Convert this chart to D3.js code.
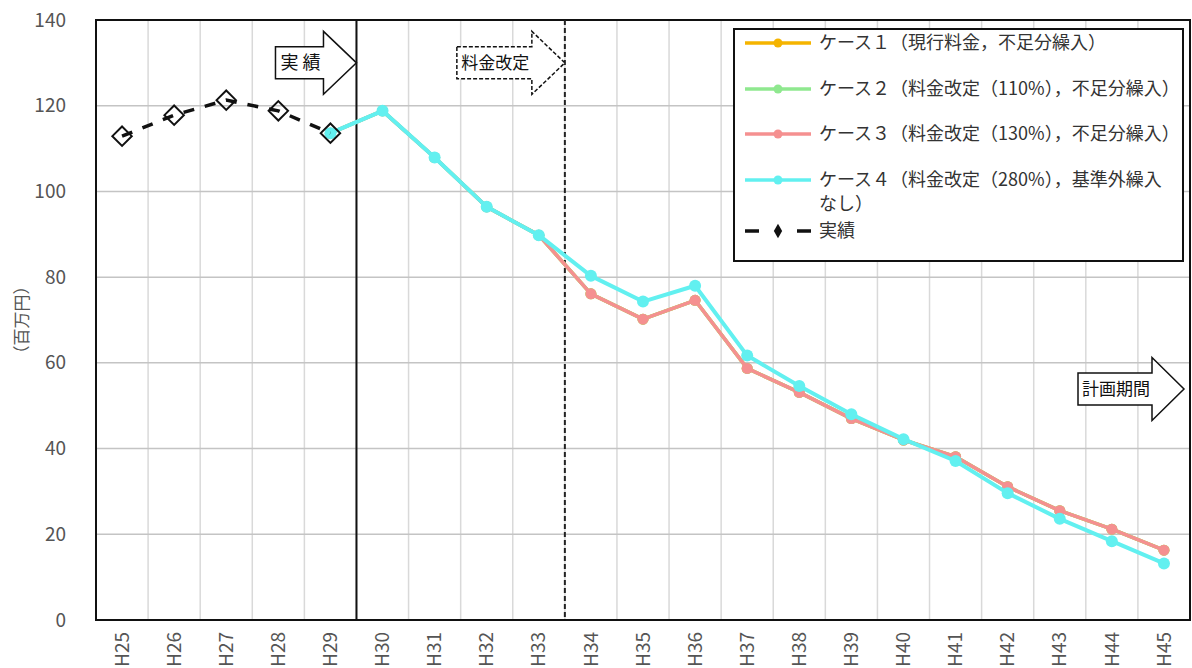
<!DOCTYPE html>
<html><head><meta charset="utf-8">
<script src="https://cdn.jsdelivr.net/npm/d3@7"></script>
<style>
html,body{margin:0;padding:0;background:#fff;}
svg{display:block;font-family:"Noto Sans CJK JP","Noto Sans",sans-serif;}
</style></head>
<body>
<script>
const categories = ["H25","H26","H27","H28","H29","H30","H31","H32","H33","H34","H35","H36","H37","H38","H39","H40","H41","H42","H43","H44","H45"];
const yTicks = [0,20,40,60,80,100,120,140];
const actual = [112.9,117.8,121.3,118.8,113.6,null,null,null,null,null,null,null,null,null,null,null,null,null,null,null,null];
const case1 = [null,null,null,null,113.6,118.8,107.9,96.4,89.8,76.1,70.2,74.6,58.7,53.1,47.0,42.0,38.1,31.1,25.5,21.2,16.3];
const case2 = [null,null,null,null,113.6,118.8,107.9,96.4,89.8,76.1,70.2,74.6,58.7,53.1,47.0,42.0,38.1,31.1,25.5,21.2,16.3];
const case3 = [null,null,null,null,113.6,118.8,107.9,96.4,89.8,76.1,70.2,74.6,58.7,53.1,47.0,42.0,38.1,31.1,25.5,21.2,16.3];
const case4 = [null,null,null,null,113.6,118.8,107.9,96.4,89.8,80.3,74.3,78.0,61.7,54.6,48.0,42.2,37.1,29.6,23.6,18.4,13.2];
const seriesNames = ["ケース１（現行料金，不足分繰入）","ケース２（料金改定（110%），不足分繰入）","ケース３（料金改定（130%），不足分繰入）","ケース４（料金改定（280%），基準外繰入","実績"];
const seriesColors = ["#f5b400","#8fe88f","#f59090","#62f0f0"];
const yLabel = "（百万円）";

const W = 1192, H = 668;
const L = 96, R = 1190, T = 20, B = 620;

const svg = d3.select("body").append("svg").attr("width", W).attr("height", H);

const x = d3.scaleBand().domain(categories).range([L, R]).padding(0);
const y = d3.scaleLinear().domain([0, 140]).range([B, T]);
const cx = c => x(c) + x.bandwidth() / 2;

// grid
svg.append("g").selectAll("line").data(categories.slice(1)).join("line")
  .attr("x1", d => x(d)).attr("x2", d => x(d)).attr("y1", T).attr("y2", B)
  .attr("stroke", "#d9d9d9").attr("stroke-width", 1.5);
svg.append("g").selectAll("line").data(yTicks.filter(v => v > 0 && v < 140)).join("line")
  .attr("x1", L).attr("x2", R).attr("y1", d => y(d)).attr("y2", d => y(d))
  .attr("stroke", "#c4c4c4").attr("stroke-width", 1.5);

// y axis labels
const yAxis = d3.axisLeft(y).tickValues(yTicks).tickSize(0).tickPadding(30);
const gy = svg.append("g").attr("transform", `translate(${L},0)`).call(yAxis);
gy.select(".domain").remove();
gy.selectAll("text").attr("font-size", 19).attr("fill", "#555").attr("font-family", "\"Noto Sans CJK JP\", sans-serif");

// x axis labels
const xAxis = d3.axisBottom(x).tickSize(0).tickPadding(0);
const gx = svg.append("g").attr("transform", `translate(0,${B})`).call(xAxis);
gx.select(".domain").remove();
gx.selectAll("text").attr("font-size", 19).attr("fill", "#555")
  .attr("font-family", "\"Noto Sans CJK JP\", sans-serif")
  .attr("text-anchor", "end").attr("dy", "0.35em")
  .attr("transform", "translate(0,12) rotate(-90)").attr("x", 0).attr("y", 0);

// y title
svg.append("text").attr("transform", `translate(22,${y(70)}) rotate(-90)`)
  .attr("text-anchor", "middle").attr("dy", "0.35em")
  .attr("font-size", 17).attr("fill", "#555").text(yLabel);

// frame
svg.append("rect").attr("x", L).attr("y", T).attr("width", R - L).attr("height", B - T)
  .attr("fill", "none").attr("stroke", "#111").attr("stroke-width", 2);

// separators
svg.append("line").attr("x1", x("H30")).attr("x2", x("H30")).attr("y1", T).attr("y2", B)
  .attr("stroke", "#111").attr("stroke-width", 2);
svg.append("line").attr("x1", x("H34")).attr("x2", x("H34")).attr("y1", T).attr("y2", B)
  .attr("stroke", "#222").attr("stroke-width", 2).attr("stroke-dasharray", "5,3");

// series
const line = d3.line().defined(d => d.v != null).x(d => cx(d.c)).y(d => y(d.v));
const cases = [case1, case2, case3, case4];
cases.forEach((arr, i) => {
  const pts = categories.map((c, j) => ({c, v: arr[j]}));
  svg.append("path").datum(pts).attr("d", line).attr("fill", "none")
    .attr("stroke", seriesColors[i]).attr("stroke-width", i === 3 ? 4 : 3.5).attr("stroke-linejoin", "round");
  svg.append("g").selectAll("circle").data(pts.filter(d => d.v != null)).join("circle")
    .attr("cx", d => cx(d.c)).attr("cy", d => y(d.v)).attr("r", i === 3 ? 6 : 5.5).attr("fill", seriesColors[i]);
});
{
  const pts = categories.map((c, j) => ({c, v: actual[j]}));
  svg.append("path").datum(pts).attr("d", line).attr("fill", "none")
    .attr("stroke", "#111").attr("stroke-width", 3.5).attr("stroke-dasharray", "11,11");
  const sym = d3.symbol().type(d3.symbolDiamond2).size(240);
  svg.append("g").selectAll("path").data(pts.filter(d => d.v != null)).join("path")
    .attr("d", sym).attr("transform", d => `translate(${cx(d.c)},${y(d.v)})`)
    .attr("fill", "none").attr("stroke", "#111").attr("stroke-width", 2);
}

// arrows
function arrow(tipX, tipY, boxLen, headLen, label, dashed, fs) {
  const hb = 16, hh = 31.5;
  const x0 = tipX - boxLen, xh = tipX - headLen;
  const p = [[x0, tipY - hb], [xh, tipY - hb], [xh, tipY - hh], [tipX, tipY], [xh, tipY + hh], [xh, tipY + hb], [x0, tipY + hb]];
  svg.append("path").attr("d", "M" + p.map(q => q.join(",")).join("L") + "Z")
    .attr("fill", "#fff").attr("stroke", "#111").attr("stroke-width", 1.5)
    .attr("stroke-dasharray", dashed ? "4,2" : null);
  svg.append("text").attr("x", (x0 + xh) / 2 + 1).attr("y", tipY).attr("dy", "0.36em")
    .attr("text-anchor", "middle").attr("font-size", fs).attr("fill", "#111").text(label);
}
arrow(x("H30"), y(130), 81, 33, "実 績", false, 18);
arrow(x("H34"), y(130), 108, 33, "料金改定", true, 17);
arrow(R - 6, y(53.9), 106, 32, "計画期間", false, 17);

// legend
const lg = svg.append("g");
lg.append("rect").attr("x", 734).attr("y", 29).attr("width", 449).attr("height", 232)
  .attr("fill", "#fff").attr("stroke", "#111").attr("stroke-width", 2);
const rowsY = [43, 89, 134, 180];
seriesColors.forEach((c, i) => {
  lg.append("line").attr("x1", 745).attr("x2", 811).attr("y1", rowsY[i]).attr("y2", rowsY[i])
    .attr("stroke", c).attr("stroke-width", 3.5);
  lg.append("circle").attr("cx", 778).attr("cy", rowsY[i]).attr("r", 4.5).attr("fill", c);
  lg.append("text").attr("x", 819).attr("y", rowsY[i]).attr("dy", "0.36em")
    .attr("font-size", 18).attr("fill", "#333").text(seriesNames[i]);
});
lg.append("text").attr("x", 819).attr("y", 204).attr("dy", "0.36em")
  .attr("font-size", 18).attr("fill", "#333").text("なし）");
lg.append("line").attr("x1", 745).attr("x2", 811).attr("y1", 231).attr("y2", 231)
  .attr("stroke", "#111").attr("stroke-width", 3.5).attr("stroke-dasharray", "14,38");
lg.append("path").attr("d", d3.symbol().type(d3.symbolDiamond).size(60))
  .attr("transform", "translate(778,231)").attr("fill", "#111");
lg.append("text").attr("x", 819).attr("y", 231).attr("dy", "0.36em")
  .attr("font-size", 18).attr("fill", "#333").text(seriesNames[4]);
</script>
</body></html>
